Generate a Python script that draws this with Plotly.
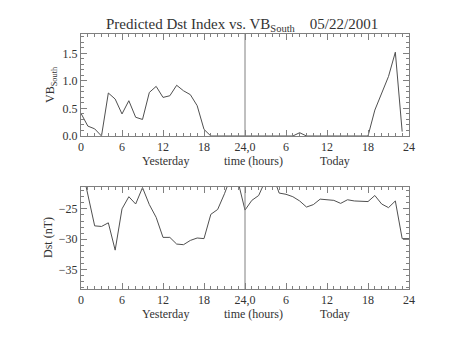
import plotly.graph_objects as go

# hours 0..47 (yesterday 0-23, today 24-47)
hours = list(range(48))
vb_south = [0.41, 0.18, 0.13, 0.0, 0.78, 0.67, 0.40, 0.64, 0.34, 0.30,
            0.79, 0.90, 0.70, 0.73, 0.92, 0.82, 0.75, 0.55, 0.12, 0.0,
            0.0, 0.0, 0.0, 0.0,
            0.0, 0.0, 0.0, 0.0, 0.0, 0.0, 0.0, 0.0, 0.06, 0.0,
            0.0, 0.0, 0.0, 0.0, 0.01, 0.0, 0.0, 0.0, 0.0, 0.47,
            0.77, 1.08, 1.52, 0.08]

dst_hours = list(range(49))
dst = [-17.5, -22.5, -27.8, -27.9, -27.3, -31.8, -25.0, -23.0, -24.2, -21.5,
       -24.3, -26.4, -29.7, -29.7, -30.8, -30.9, -30.2, -29.8, -29.9, -25.9,
       -25.1, -22.5, -19.5, -20.6,
       -25.2, -23.6, -22.8, -20.3, -19.3, -22.4, -22.6, -23.0, -23.7, -24.7,
       -24.3, -23.4, -23.5, -23.6, -24.1, -23.5, -23.7, -23.8, -23.8, -22.8,
       -24.2, -24.8, -23.7, -29.9, -29.9]

tick_vals = [0, 6, 12, 18, 24, 30, 36, 42, 48]
tick_text = ["0", "6", "12", "18", "24,0", "6", "12", "18", "24"]

FONT = "Liberation Serif"
TXT = "#333333"
AX = "#808080"
LINE = "#505050"

fig = go.Figure()
fig.add_trace(go.Scatter(x=hours, y=vb_south, mode="lines",
                         line=dict(color=LINE, width=1), xaxis="x", yaxis="y",
                         showlegend=False))
fig.add_trace(go.Scatter(x=dst_hours, y=dst, mode="lines",
                         line=dict(color=LINE, width=1), xaxis="x2", yaxis="y2",
                         showlegend=False))

common_x = dict(range=[0, 48], tickvals=tick_vals, ticktext=tick_text,
                ticks="inside", ticklen=6, tickcolor=AX, showline=True,
                linecolor=AX, linewidth=1, mirror="ticks", showgrid=False,
                zeroline=False, minor=dict(dtick=1, ticklen=3, ticks="inside", tickcolor=AX),
                tickfont=dict(family=FONT, size=12, color=TXT))
common_y = dict(ticks="inside", ticklen=6, tickcolor=AX, showline=True,
                linecolor=AX, linewidth=1, mirror="ticks", showgrid=False,
                zeroline=False, tickfont=dict(family=FONT, size=12, color=TXT))

fig.update_layout(
    width=454, height=341,
    margin=dict(l=81, r=45, t=34, b=52),
    paper_bgcolor="white", plot_bgcolor="white",
    xaxis=dict(domain=[0, 1], anchor="y", **common_x),
    yaxis=dict(domain=[0.6, 1], anchor="x", range=[0, 1.85],
               tickvals=[0, 0.5, 1.0, 1.5], ticktext=["0.0", "0.5", "1.0", "1.5"],
               minor=dict(dtick=0.1, ticklen=3, ticks="inside", tickcolor=AX),
               **common_y),
    xaxis2=dict(domain=[0, 1], anchor="y2", **common_x),
    yaxis2=dict(domain=[0, 0.4], anchor="x2", range=[-38.2, -21.4],
                tickvals=[-35, -30, -25],
                minor=dict(dtick=1, ticklen=3, ticks="inside", tickcolor=AX),
                **common_y),
)

for yr in ["y", "y2"]:
    xr = "x" if yr == "y" else "x2"
    fig.add_shape(type="line", xref=xr, yref=yr + " domain", x0=24, x1=24, y0=0, y1=1,
                  line=dict(color=AX, width=1))
    for xv, txt in [(12.4, "Yesterday"), (25.2, "time (hours)"), (37.1, "Today")]:
        fig.add_annotation(xref=xr, yref=yr + " domain", x=xv, y=0, text=txt,
                           showarrow=False, yanchor="middle", xanchor="center",
                           yshift=-25,
                           font=dict(family=FONT, size=12, color=TXT))

fig.add_annotation(xref="paper", yref="y domain", x=0, y=0.5, xshift=-30,
                   text="VB<sub>South</sub>", textangle=-90, showarrow=False,
                   xanchor="center", yanchor="middle",
                   font=dict(family=FONT, size=12, color=TXT))
fig.add_annotation(xref="paper", yref="y2 domain", x=0, y=0.5, xshift=-33,
                   text="Dst (nT)", textangle=-90, showarrow=False,
                   xanchor="center", yanchor="middle",
                   font=dict(family=FONT, size=12, color=TXT))
fig.add_annotation(xref="paper", yref="paper", x=0.49, y=1, yshift=9,
                   text="Predicted Dst Index vs. VB<sub>South</sub>    05/22/2001",
                   showarrow=False, yanchor="middle", xanchor="center",
                   font=dict(family=FONT, size=15, color=TXT))

fig.write_html("out.html")
